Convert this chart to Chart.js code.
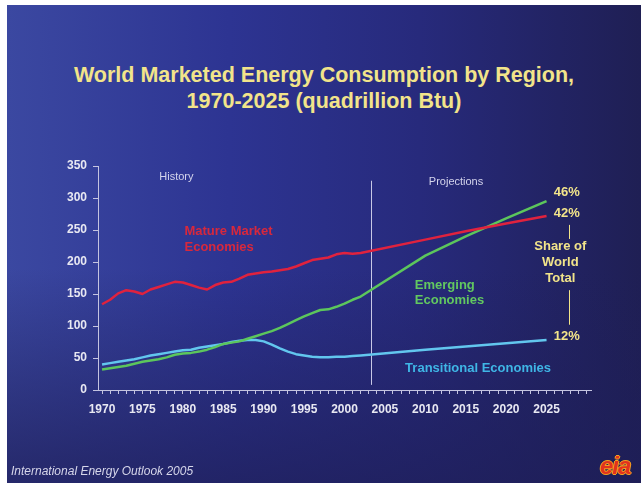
<!DOCTYPE html>
<html>
<head>
<meta charset="utf-8">
<script src="https://cdn.jsdelivr.net/npm/chart.js@4.4.1/dist/chart.umd.min.js"></script>
<style>
  html, body { margin: 0; padding: 0; background: #ffffff; }
  body { width: 641px; height: 483px; position: relative; overflow: hidden; font-family: "Liberation Sans", Arial, sans-serif; }
  #slide {
    position: absolute; left: 7px; top: 5px; width: 634px; height: 478px;
    background:
      linear-gradient(to bottom, rgba(30,30,88,0) 55%, rgba(30,30,88,0.75) 100%),
      linear-gradient(to right, #3b48a1 0%, #2d3492 35%, #272a7c 65%, #1f1f54 100%);
  }
  #chart { position: absolute; left: 0; top: 0; }
  #title {
    position: absolute; left: 7px; width: 634px; top: 62px; text-align: center;
    color: #f2e48a; font-weight: bold; font-size: 21.5px; line-height: 26px;
  }
  #footer {
    position: absolute; left: 11px; top: 464px; color: #d6d6ea;
    font-style: italic; font-size: 12px;
  }
  #logo {
    position: absolute; left: 600px; top: 452px; font-weight: bold; font-style: italic;
    font-size: 24px; color: #e2321e; letter-spacing: -1px;
    text-shadow: -1px 0 #f4a020, 1px 0 #f4a020, 0 1px #f4a020, 0 -1px #f4a020;
  }
</style>
</head>
<body>
<div id="slide"></div>
<div id="title">World Marketed Energy Consumption by Region,<br>1970-2025 (quadrillion Btu)</div>
<canvas id="chart" width="641" height="483"></canvas>
<div id="footer">International Energy Outlook 2005</div>
<div id="logo">eia</div>
<script>
// History, 1970-2002
const histYears = [1970,1971,1972,1973,1974,1975,1976,1977,1978,1979,
                   1980,1981,1982,1983,1984,1985,1986,1987,1988,1989,
                   1990,1991,1992,1993,1994,1995,1996,1997,1998,1999,
                   2000,2001,2002];
const matureHist = [134,141,151,156,154,150,157,161,165,169,
                    168,164,160,157,164,168,169,174,180,182,
                    184,185,187,189,193,198,203,205,207,212,
                    214,213,214];
const emergingHist = [32,34,36,38,41,44,46,48,51,55,
                      57,58,60,63,67,72,74,76,80,84,
                      88,92,97,103,109,115,120,125,126,130,
                      135,141,146];
const transHist = [40,42,44,46,48,51,54,56,58,60,
                   62,63,66,68,70,72,75,77,78,78,
                   76,71,65,60,56,54,52,51,51,52,
                   52,53,54];

// Projections
const projYears = [2002, 2010, 2015, 2020, 2025];
const matureProj = [214, 235, 248, 260, 272];
const emergingProj = [146, 210, 240, 268, 295];
const transProj = [54, 63, 68, 73, 78];

const yTicks = [0, 50, 100, 150, 200, 250, 300, 350];
const xLabels = [1970, 1975, 1980, 1985, 1990, 1995, 2000, 2005, 2010, 2015, 2020, 2025];
const xFirstTick = 1970, xLastTick = 2030;
const splitYear = 2003.25;

const axisC = '#c4c4e0';
const tickC = '#e8e8f2';
const yellow = '#f2e48a';

function series(hist, proj) {
  const pts = histYears.map((yr, i) => ({ x: yr, y: hist[i] }));
  projYears.slice(1).forEach((yr, i) => pts.push({ x: yr, y: proj[i + 1] }));
  return pts;
}

const small = '11px "Liberation Sans", Arial';
const bold = 'bold 13px "Liberation Sans", Arial';

// text placed in data coordinates: [text, year, value, color, font, align]
const notes = [
  ['History', 1979.2, 333, '#d4d4ec', small, 'center'],
  ['Projections', 2013.8, 325, '#d4d4ec', small, 'center'],
  ['Mature Market', 1980.2, 248, '#d8283c', bold, 'left'],
  ['Economies', 1980.2, 222, '#d8283c', bold, 'left'],
  ['Emerging', 2008.7, 164, '#62c860', bold, 'left'],
  ['Economies', 2008.7, 140, '#62c860', bold, 'left'],
  ['Transitional Economies', 2007.5, 33, '#3fb6e6', bold, 'left'],
  ['46%', 2027.5, 308, yellow, bold, 'center'],
  ['42%', 2027.5, 276, yellow, bold, 'center'],
  ['12%', 2027.5, 83, yellow, bold, 'center'],
  ['Share of', 2026.7, 224, yellow, bold, 'center'],
  ['World', 2026.7, 199, yellow, bold, 'center'],
  ['Total', 2026.7, 175, yellow, bold, 'center'],
];

const annot = {
  id: 'annot',
  beforeDatasetsDraw(chart) {
    const { ctx, scales: { x, y } } = chart;
    ctx.save();
    ctx.strokeStyle = '#c8c8e6';
    ctx.lineWidth = 1;
    const px = Math.round(x.getPixelForValue(splitYear)) + 0.5;
    ctx.beginPath();
    ctx.moveTo(px, y.getPixelForValue(327));
    ctx.lineTo(px, y.getPixelForValue(8));
    ctx.stroke();
    ctx.restore();
  },
  afterDatasetsDraw(chart) {
    const { ctx, scales: { x, y } } = chart;
    ctx.save();
    ctx.textBaseline = 'middle';
    notes.forEach(([t, xv, yv, c, f, a]) => {
      ctx.fillStyle = c;
      ctx.font = f;
      ctx.textAlign = a;
      ctx.fillText(t, x.getPixelForValue(xv), y.getPixelForValue(yv));
    });
    // connector beside "Share of World Total"
    ctx.strokeStyle = yellow;
    ctx.lineWidth = 1;
    const lx = Math.round(x.getPixelForValue(2027.8)) + 0.5;
    ctx.beginPath();
    ctx.moveTo(lx, y.getPixelForValue(258)); ctx.lineTo(lx, y.getPixelForValue(236));
    ctx.moveTo(lx, y.getPixelForValue(156)); ctx.lineTo(lx, y.getPixelForValue(102));
    ctx.stroke();
    ctx.restore();
  }
};

const lineStyle = { borderWidth: 2.5, pointRadius: 0, tension: 0, fill: false, borderJoinStyle: 'round' };

new Chart(document.getElementById('chart'), {
  type: 'line',
  data: {
    datasets: [
      { label: 'Mature Market Economies', data: series(matureHist, matureProj), borderColor: '#e0223e', ...lineStyle },
      { label: 'Emerging Economies', data: series(emergingHist, emergingProj), borderColor: '#5cc65c', ...lineStyle },
      { label: 'Transitional Economies', data: series(transHist, transProj), borderColor: '#62c6ee', ...lineStyle },
    ]
  },
  options: {
    responsive: false,
    animation: false,
    layout: { padding: { top: 166, right: 50, left: 0, bottom: 0 } },
    plugins: { legend: { display: false }, tooltip: { enabled: false } },
    scales: {
      x: {
        type: 'linear', min: 1969.5, max: 2030.5,
        afterFit: s => { s.height = 93; },
        afterBuildTicks: s => {
          const t = [];
          for (let v = xFirstTick; v <= xLastTick; v++) t.push({ value: v });
          s.ticks = t;
        },
        border: { display: true, color: axisC, width: 1 },
        grid: { drawOnChartArea: false, drawTicks: true, tickLength: 4, color: axisC },
        ticks: {
          autoSkip: false, maxRotation: 0,
          color: tickC, padding: 8, font: { size: 12, weight: 'bold', family: '"Liberation Sans", Arial' },
          callback: v => xLabels.includes(v) ? String(v) : ''
        }
      },
      y: {
        min: 0, max: 350,
        afterFit: s => { s.width = 98; },
        afterBuildTicks: s => { s.ticks = yTicks.map(v => ({ value: v })); },
        border: { display: true, color: axisC, width: 1 },
        grid: { drawOnChartArea: false, drawTicks: true, tickLength: 5, color: axisC },
        ticks: { color: tickC, padding: 6, font: { size: 12, weight: 'bold', family: '"Liberation Sans", Arial' } }
      }
    }
  },
  plugins: [annot]
});
</script>
</body>
</html>
